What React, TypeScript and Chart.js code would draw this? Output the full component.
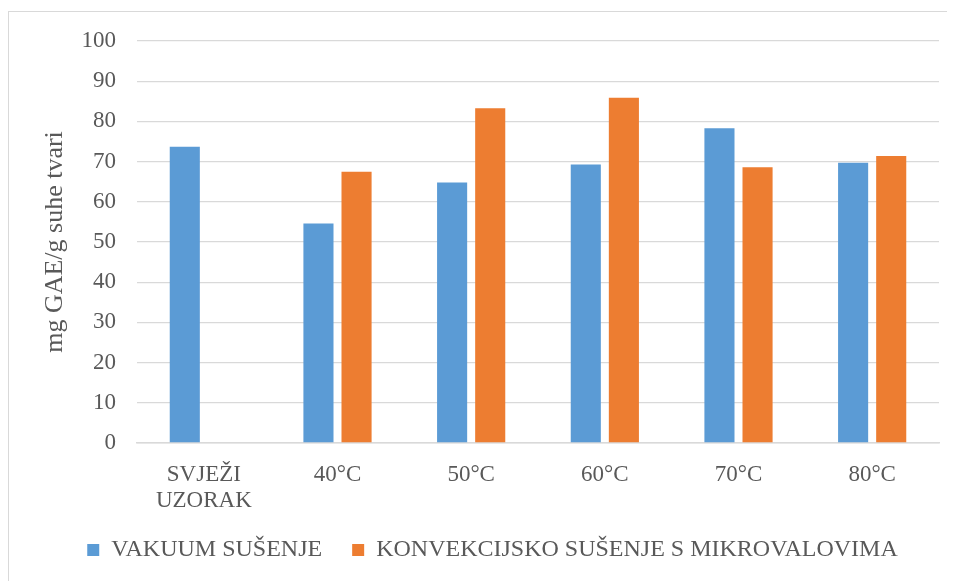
import React, { useEffect, useRef } from "react";
import { Chart, registerables } from "chart.js";

Chart.register(...registerables);

const categories: (string | string[])[] = [["SVJEŽI", "UZORAK"], "40°C", "50°C", "60°C", "70°C", "80°C"];
const vakuumValues: (number | null)[] = [73.7, 54.6, 64.8, 69.3, 78.3, 69.7];
const konvekcijskoValues: (number | null)[] = [null, 67.5, 83.3, 85.9, 68.6, 71.4];
const seriesNames = ["VAKUUM SUŠENJE", "KONVEKCIJSKO SUŠENJE S MIKROVALOVIMA"];
const yTitle = "mg GAE/g suhe tvari";

const FONT = "'Liberation Serif', 'Times New Roman', serif";
const TEXT = "#595959";
const GRID = "#d9d9d9";

export default function App() {
  const ref = useRef<HTMLCanvasElement | null>(null);

  useEffect(() => {
    if (!ref.current) return;
    const chart = new Chart(ref.current, {
      type: "bar",
      data: {
        labels: categories,
        datasets: [
          { label: seriesNames[0], data: vakuumValues, backgroundColor: "#5B9BD5", borderWidth: 0 },
          { label: seriesNames[1], data: konvekcijskoValues, backgroundColor: "#ED7D31", borderWidth: 0 },
        ],
      },
      options: {
        animation: false,
        responsive: false,
        maintainAspectRatio: false,
        datasets: { bar: { categoryPercentage: 0.57, barPercentage: 0.79 } },
        layout: { padding: { left: 46, right: 16, top: 41, bottom: 9 } },
        plugins: {
          tooltip: { enabled: false },
          legend: {
            position: "bottom",
            labels: {
              boxWidth: 12,
              boxHeight: 12,
              padding: 30,
              color: TEXT,
              font: { family: FONT, size: 24 },
            },
          },
        },
        scales: {
          x: {
            grid: { display: false, drawTicks: false },
            border: { display: true, color: GRID, width: 1.5 },
            ticks: {
              color: TEXT,
              padding: 19,
              maxRotation: 0,
              autoSkip: false,
              font: { family: FONT, size: 23, lineHeight: 1.13 },
            },
            afterFit: (s: any) => {
              s.height = 65;
            },
          },
          y: {
            min: 0,
            max: 100,
            ticks: {
              stepSize: 10,
              color: TEXT,
              padding: 21,
              font: { family: FONT, size: 23 },
            },
            grid: { color: GRID, lineWidth: 1.3, drawTicks: false },
            border: { display: false },
            title: {
              display: true,
              text: yTitle,
              color: TEXT,
              padding: { top: -4, bottom: 0 },
              font: { family: FONT, size: 26, lineHeight: 1 },
            },
            afterFit: (s: any) => {
              s.width = 91;
            },
          },
        },
      },
    });
    return () => chart.destroy();
  }, []);

  return (
    <div style={{ position: "relative", margin: "-8px 0 0 -8px", width: 955, height: 581 }}>
      <canvas ref={ref} width={955} height={581} style={{ position: "absolute", left: 0, top: 0 }} />
      <div
        style={{
          position: "absolute",
          left: 8,
          top: 11,
          width: 947,
          height: 570,
          borderLeft: `1px solid ${GRID}`,
          borderTop: `1px solid ${GRID}`,
          boxSizing: "border-box",
          pointerEvents: "none",
        }}
      />
    </div>
  );
}
